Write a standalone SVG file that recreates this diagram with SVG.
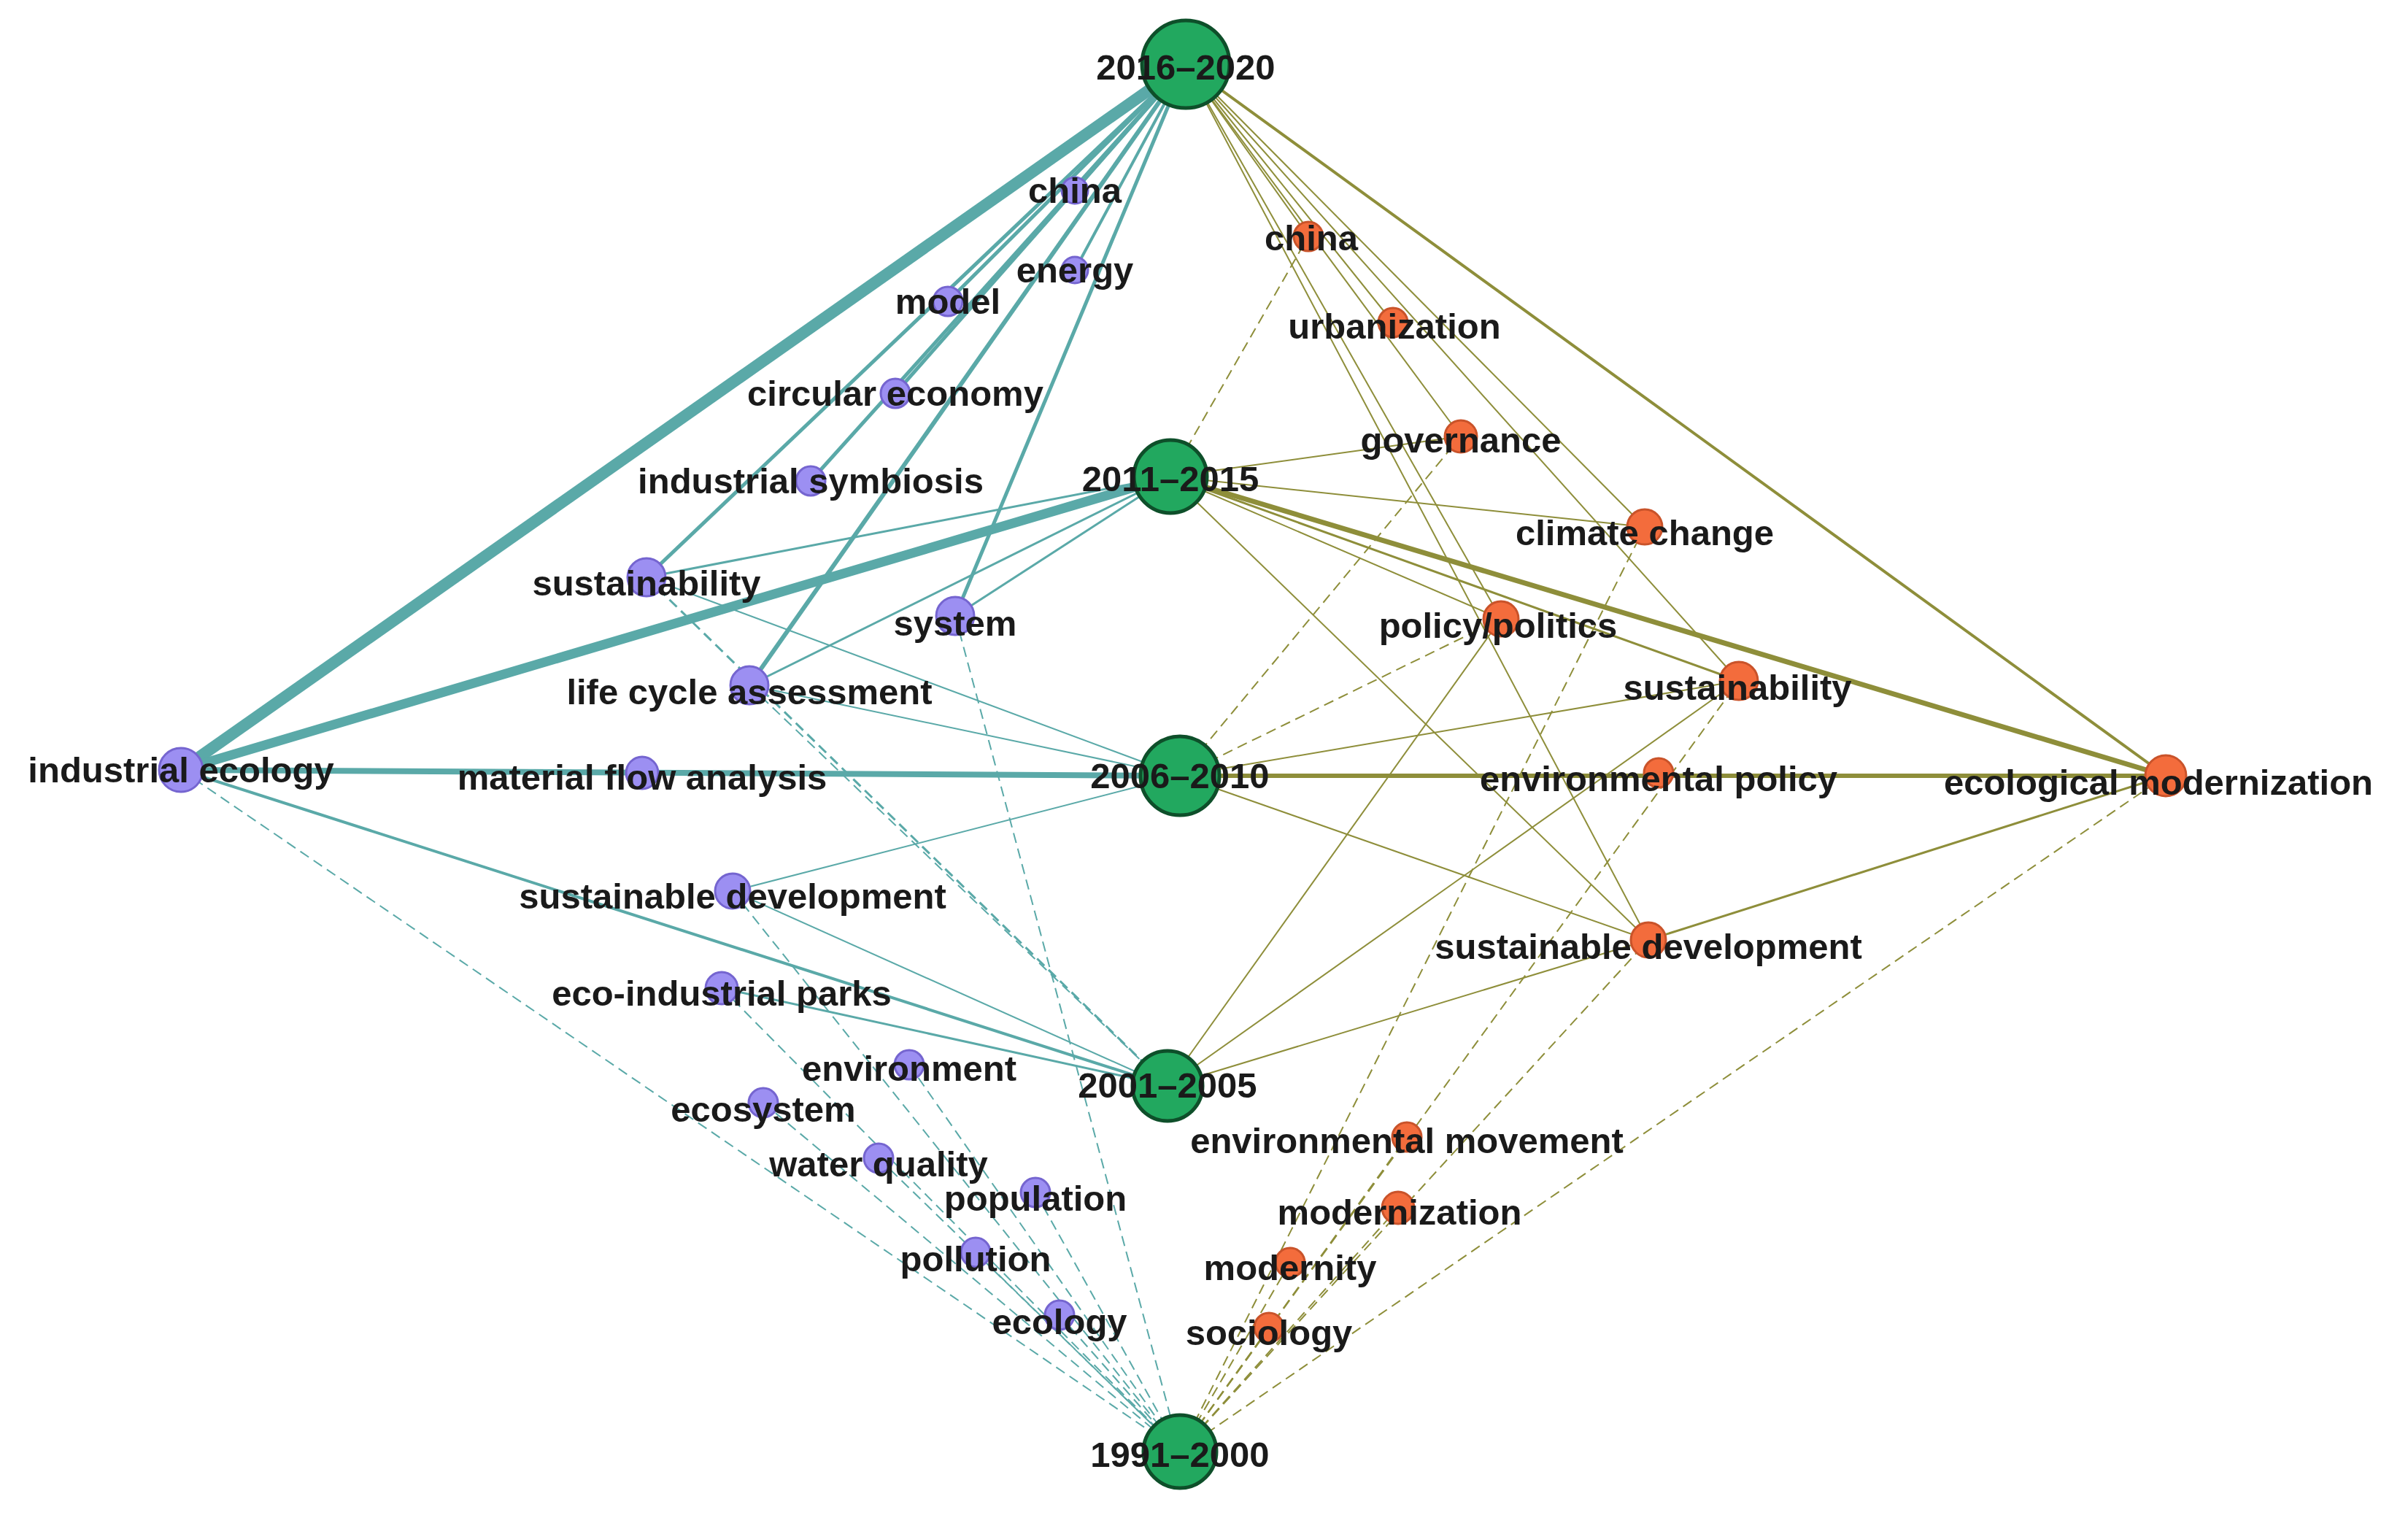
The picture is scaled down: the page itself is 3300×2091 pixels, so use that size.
<svg xmlns="http://www.w3.org/2000/svg" width="3300" height="2091" viewBox="0 0 3300 2091">
<style>
.g{fill:#22a85f;stroke:#0e4f2a;stroke-width:5}
.p{fill:#9c8ff2;stroke:#7565d0;stroke-width:3}
.o{fill:#f36c3c;stroke:#c9532a;stroke-width:3}
text{font-family:"Liberation Sans",Arial,sans-serif;font-weight:bold;font-size:49px;fill:#1a1a1a;text-anchor:middle}
.t{stroke:#5aa9a8;fill:none}
.l{stroke:#8e8e3a;fill:none}
.d{stroke-dasharray:14 8}
</style>
<rect width="3300" height="2091" fill="#fff"/>
<g id="connectors">
<line class="t" x1="248" y1="1055" x2="1625" y2="88" stroke-width="16"/>
<line class="t" x1="248" y1="1055" x2="1604" y2="653" stroke-width="13"/>
<line class="t" x1="248" y1="1055" x2="1617" y2="1063" stroke-width="8"/>
<line class="t" x1="248" y1="1055" x2="1600" y2="1488" stroke-width="4"/>
<line class="t d" x1="248" y1="1055" x2="1617" y2="1989" stroke-width="2"/>
<line class="t" x1="1473" y1="261" x2="1625" y2="88" stroke-width="5"/>
<line class="t" x1="1473" y1="370" x2="1625" y2="88" stroke-width="4"/>
<line class="t" x1="1299" y1="413" x2="1625" y2="88" stroke-width="5"/>
<line class="t" x1="1227" y1="539" x2="1625" y2="88" stroke-width="5"/>
<line class="t" x1="1111" y1="659" x2="1625" y2="88" stroke-width="5"/>
<line class="t" x1="886" y1="791" x2="1625" y2="88" stroke-width="5"/>
<line class="t" x1="1309" y1="844" x2="1625" y2="88" stroke-width="5"/>
<line class="t" x1="1027" y1="939" x2="1625" y2="88" stroke-width="6"/>
<line class="t" x1="886" y1="791" x2="1604" y2="653" stroke-width="3"/>
<line class="t" x1="1027" y1="939" x2="1604" y2="653" stroke-width="3"/>
<line class="t" x1="1309" y1="844" x2="1604" y2="653" stroke-width="3"/>
<line class="t" x1="886" y1="791" x2="1617" y2="1063" stroke-width="2"/>
<line class="t" x1="1027" y1="939" x2="1617" y2="1063" stroke-width="2"/>
<line class="t d" x1="886" y1="791" x2="1600" y2="1488" stroke-width="3"/>
<line class="t d" x1="1027" y1="939" x2="1600" y2="1488" stroke-width="2"/>
<line class="t d" x1="1309" y1="844" x2="1617" y2="1989" stroke-width="2"/>
<line class="t" x1="1004" y1="1221" x2="1617" y2="1063" stroke-width="2"/>
<line class="t" x1="1004" y1="1221" x2="1600" y2="1488" stroke-width="2"/>
<line class="t d" x1="1004" y1="1221" x2="1617" y2="1989" stroke-width="2"/>
<line class="t" x1="989" y1="1354" x2="1600" y2="1488" stroke-width="3"/>
<line class="t d" x1="989" y1="1354" x2="1617" y2="1989" stroke-width="2"/>
<line class="t d" x1="1246" y1="1459" x2="1617" y2="1989" stroke-width="2"/>
<line class="t d" x1="1046" y1="1511" x2="1617" y2="1989" stroke-width="2"/>
<line class="t d" x1="1204" y1="1587" x2="1617" y2="1989" stroke-width="2"/>
<line class="t d" x1="1419" y1="1634" x2="1617" y2="1989" stroke-width="2"/>
<line class="t d" x1="1337" y1="1716" x2="1617" y2="1989" stroke-width="2"/>
<line class="t d" x1="1452" y1="1802" x2="1617" y2="1989" stroke-width="2"/>
<line class="l" x1="1625" y1="88" x2="2968" y2="1063" stroke-width="4"/>
<line class="l" x1="1625" y1="88" x2="1793" y2="324" stroke-width="2"/>
<line class="l" x1="1625" y1="88" x2="1909" y2="442" stroke-width="2"/>
<line class="l" x1="1625" y1="88" x2="2002" y2="598" stroke-width="2"/>
<line class="l" x1="1625" y1="88" x2="2254" y2="722" stroke-width="2"/>
<line class="l" x1="1625" y1="88" x2="2057" y2="848" stroke-width="2"/>
<line class="l" x1="1625" y1="88" x2="2383" y2="933" stroke-width="2"/>
<line class="l" x1="1625" y1="88" x2="2259" y2="1288" stroke-width="2"/>
<line class="l" x1="1604" y1="653" x2="2968" y2="1063" stroke-width="7"/>
<line class="l" x1="1604" y1="653" x2="2002" y2="598" stroke-width="2"/>
<line class="l" x1="1604" y1="653" x2="2254" y2="722" stroke-width="2"/>
<line class="l" x1="1604" y1="653" x2="2383" y2="933" stroke-width="3"/>
<line class="l" x1="1604" y1="653" x2="2057" y2="848" stroke-width="2"/>
<line class="l" x1="1604" y1="653" x2="2259" y2="1288" stroke-width="2"/>
<line class="l d" x1="1604" y1="653" x2="1793" y2="324" stroke-width="2"/>
<line class="l" x1="1617" y1="1063" x2="2968" y2="1063" stroke-width="6"/>
<line class="l" x1="1617" y1="1063" x2="2383" y2="933" stroke-width="2"/>
<line class="l" x1="1617" y1="1063" x2="2259" y2="1288" stroke-width="2"/>
<line class="l d" x1="1617" y1="1063" x2="2002" y2="598" stroke-width="2"/>
<line class="l d" x1="1617" y1="1063" x2="2057" y2="848" stroke-width="2"/>
<line class="l" x1="1600" y1="1488" x2="2259" y2="1288" stroke-width="2"/>
<line class="l" x1="1600" y1="1488" x2="2057" y2="848" stroke-width="2"/>
<line class="l" x1="1600" y1="1488" x2="2383" y2="933" stroke-width="2"/>
<line class="l" x1="2259" y1="1288" x2="2968" y2="1063" stroke-width="3"/>
<line class="l d" x1="1617" y1="1989" x2="1928" y2="1558" stroke-width="2"/>
<line class="l d" x1="1617" y1="1989" x2="1916" y2="1655" stroke-width="2"/>
<line class="l d" x1="1617" y1="1989" x2="1768" y2="1730" stroke-width="2"/>
<line class="l d" x1="1617" y1="1989" x2="1739" y2="1819" stroke-width="2"/>
<line class="l d" x1="1617" y1="1989" x2="2968" y2="1063" stroke-width="2"/>
<line class="l d" x1="1617" y1="1989" x2="2259" y2="1288" stroke-width="2"/>
<line class="l d" x1="1617" y1="1989" x2="2254" y2="722" stroke-width="2"/>
<line class="l d" x1="1617" y1="1989" x2="2383" y2="933" stroke-width="2"/>
</g>
<g id="n-ie"><circle class="p" cx="248" cy="1055" r="30"/><text x="248" y="1072">industrial ecology</text></g>
<g id="n-pchina"><circle class="p" cx="1473" cy="261" r="18"/><text x="1473" y="278">china</text></g>
<g id="n-energy"><circle class="p" cx="1473" cy="370" r="18"/><text x="1473" y="387">energy</text></g>
<g id="n-model"><circle class="p" cx="1299" cy="413" r="20"/><text x="1299" y="430">model</text></g>
<g id="n-ce"><circle class="p" cx="1227" cy="539" r="20"/><text x="1227" y="556">circular economy</text></g>
<g id="n-is"><circle class="p" cx="1111" cy="659" r="20"/><text x="1111" y="676">industrial symbiosis</text></g>
<g id="n-psust"><circle class="p" cx="886" cy="791" r="26"/><text x="886" y="816">sustainability</text></g>
<g id="n-system"><circle class="p" cx="1309" cy="844" r="26"/><text x="1309" y="871">system</text></g>
<g id="n-lca"><circle class="p" cx="1027" cy="939" r="26"/><text x="1027" y="965">life cycle assessment</text></g>
<g id="n-mfa"><circle class="p" cx="880" cy="1059" r="22"/><text x="880" y="1082">material flow analysis</text></g>
<g id="n-psd"><circle class="p" cx="1004" cy="1221" r="24"/><text x="1004" y="1245">sustainable development</text></g>
<g id="n-eip"><circle class="p" cx="989" cy="1354" r="22"/><text x="989" y="1378">eco-industrial parks</text></g>
<g id="n-env"><circle class="p" cx="1246" cy="1459" r="20"/><text x="1246" y="1481">environment</text></g>
<g id="n-ecosys"><circle class="p" cx="1046" cy="1511" r="20"/><text x="1046" y="1537">ecosystem</text></g>
<g id="n-wq"><circle class="p" cx="1204" cy="1587" r="20"/><text x="1204" y="1612">water quality</text></g>
<g id="n-pop"><circle class="p" cx="1419" cy="1634" r="20"/><text x="1419" y="1659">population</text></g>
<g id="n-poll"><circle class="p" cx="1337" cy="1716" r="20"/><text x="1337" y="1742">pollution</text></g>
<g id="n-ecology"><circle class="p" cx="1452" cy="1802" r="20"/><text x="1452" y="1828">ecology</text></g>
<g id="n-ochina"><circle class="o" cx="1793" cy="324" r="20"/><text x="1797" y="343">china</text></g>
<g id="n-urb"><circle class="o" cx="1909" cy="442" r="20"/><text x="1911" y="464">urbanization</text></g>
<g id="n-gov"><circle class="o" cx="2002" cy="598" r="22"/><text x="2002" y="620">governance</text></g>
<g id="n-cc"><circle class="o" cx="2254" cy="722" r="24"/><text x="2254" y="747">climate change</text></g>
<g id="n-pp"><circle class="o" cx="2057" cy="848" r="24"/><text x="2053" y="874">policy/politics</text></g>
<g id="n-osust"><circle class="o" cx="2383" cy="933" r="26"/><text x="2381" y="959">sustainability</text></g>
<g id="n-ep"><circle class="o" cx="2273" cy="1059" r="20"/><text x="2273" y="1084">environmental policy</text></g>
<g id="n-em"><circle class="o" cx="2968" cy="1063" r="28"/><text x="2958" y="1089">ecological modernization</text></g>
<g id="n-osd"><circle class="o" cx="2259" cy="1288" r="24"/><text x="2259" y="1314">sustainable development</text></g>
<g id="n-emov"><circle class="o" cx="1928" cy="1558" r="20"/><text x="1928" y="1580">environmental movement</text></g>
<g id="n-modz"><circle class="o" cx="1916" cy="1655" r="22"/><text x="1918" y="1678">modernization</text></g>
<g id="n-mody"><circle class="o" cx="1768" cy="1730" r="20"/><text x="1768" y="1754">modernity</text></g>
<g id="n-soc"><circle class="o" cx="1739" cy="1819" r="20"/><text x="1739" y="1843">sociology</text></g>
<g id="n-2016"><circle class="g" cx="1625" cy="88" r="60"/><text x="1625" y="109">2016–2020</text></g>
<g id="n-2011"><circle class="g" cx="1604" cy="653" r="50"/><text x="1604" y="673">2011–2015</text></g>
<g id="n-2006"><circle class="g" cx="1617" cy="1063" r="54"/><text x="1617" y="1080">2006–2010</text></g>
<g id="n-2001"><circle class="g" cx="1600" cy="1488" r="48"/><text x="1600" y="1504">2001–2005</text></g>
<g id="n-1991"><circle class="g" cx="1617" cy="1989" r="50"/><text x="1617" y="2010">1991–2000</text></g>
</svg>
